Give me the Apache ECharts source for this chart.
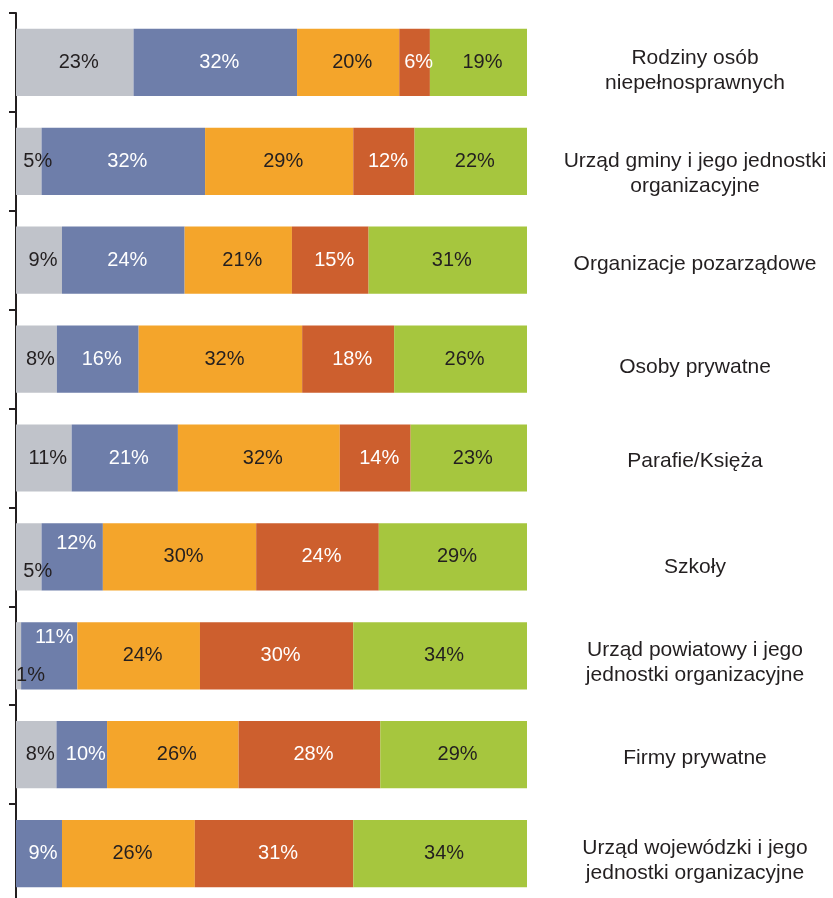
<!DOCTYPE html>
<html>
<head>
<meta charset="utf-8">
<style>
  html, body { margin: 0; padding: 0; background: #ffffff; overflow: hidden; }
  /* the plot runs slightly past the bottom edge of the page */
  #chart { width: 833px; height: 910px; }
</style>
<script src="https://cdn.jsdelivr.net/npm/echarts@6/dist/echarts.min.js"></script>
</head>
<body>
<div id="chart"></div>
<script>
// Respondent groups (top to bottom)
const categories = [
  'Rodziny osób\nniepełnosprawnych',
  'Urząd gminy i jego jednostki\norganizacyjne',
  'Organizacje pozarządowe',
  'Osoby prywatne',
  'Parafie/Księża',
  'Szkoły',
  'Urząd powiatowy i jego\njednostki organizacyjne',
  'Firmy prywatne',
  'Urząd wojewódzki i jego\njednostki organizacyjne'
];

// Answer shares in percent, one array per answer level
const greyVals   = [23, 5, 9, 8, 11, 5, 1, 8, 0];
const blueVals   = [32, 32, 24, 16, 21, 12, 11, 10, 9];
const orangeVals = [20, 29, 21, 32, 32, 30, 24, 26, 26];
const redVals    = [6, 12, 15, 18, 14, 24, 30, 28, 31];
const greenVals  = [19, 22, 31, 26, 23, 29, 34, 29, 34];

const seriesVals = [greyVals, blueVals, orangeVals, redVals, greenVals];
const seriesColors = ['#c0c3ca', '#6e7eaa', '#f4a52b', '#cd5f2e', '#a6c63e'];
const labelColors = ['#231f20', '#ffffff', '#231f20', '#ffffff', '#231f20'];

// Extra label shifts for narrow segments: [series, row, dx, dy]
const labelNudges = [
  [0, 1, 5, 0],
  [0, 5, 5, 15],
  [1, 5, 0, -13],
  [0, 6, 8, 20],
  [1, 6, 1, -18]
];

// Vertical shift of each group name relative to its row centre
const nameShift = [8, 12, 4, 8, 3, 10, 7, 4, 7];

const FONT = '"Liberation Sans", Arial, Helvetica, sans-serif';

// Each row is drawn as a full 100% bar (rounded shares may add up to 101)
const rowSums = categories.map((_, i) =>
  seriesVals.reduce((s, arr) => s + arr[i], 0));

function nudgeFor(s, r) {
  const n = labelNudges.find(e => e[0] === s && e[1] === r);
  return n ? [4 + n[2], n[3]] : [4, 0];
}

const series = seriesVals.map((vals, s) => ({
  name: 'p' + (s + 1),
  type: 'bar',
  stack: 'all',
  barWidth: '68%',
  itemStyle: { color: seriesColors[s] },
  label: {
    show: true,
    position: 'inside',
    color: labelColors[s],
    fontFamily: FONT,
    fontSize: 20,
    formatter: p => p.data.raw + '%'
  },
  data: vals.map((v, r) => ({
    value: v / rowSums[r] * 100,
    raw: v,
    label: { show: v > 0, offset: nudgeFor(s, r) }
  }))
}));

// Group names, anchored at the end of every row and centred in the right margin
series.push({
  name: 'names',
  type: 'scatter',
  symbolSize: 0,
  silent: true,
  itemStyle: { opacity: 1 },
  label: {
    show: true,
    position: 'right',
    distance: 168,
    align: 'center',
    verticalAlign: 'middle',
    color: '#231f20',
    opacity: 1,
    fontFamily: FONT,
    fontSize: 21,
    lineHeight: 25,
    formatter: p => categories[p.dataIndex]
  },
  data: categories.map((c, r) => ({
    value: [100, r],
    label: { offset: [0, nameShift[r]] }
  }))
});

const chart = echarts.init(document.getElementById('chart'), null, { renderer: 'canvas' });
chart.setOption({
  animation: false,
  backgroundColor: '#ffffff',
  grid: { left: 16, right: 306, top: 13, height: 890, containLabel: false },
  xAxis: { type: 'value', min: 0, max: 100, show: false },
  yAxis: {
    type: 'category',
    data: categories,
    inverse: true,
    position: 'left',
    axisLine: { show: true, lineStyle: { color: '#231f20', width: 2 } },
    axisTick: { show: true, length: 7, inside: false, lineStyle: { color: '#231f20', width: 2 } },
    axisLabel: { show: false },
    splitLine: { show: false }
  },
  series: series
});
</script>
</body>
</html>
